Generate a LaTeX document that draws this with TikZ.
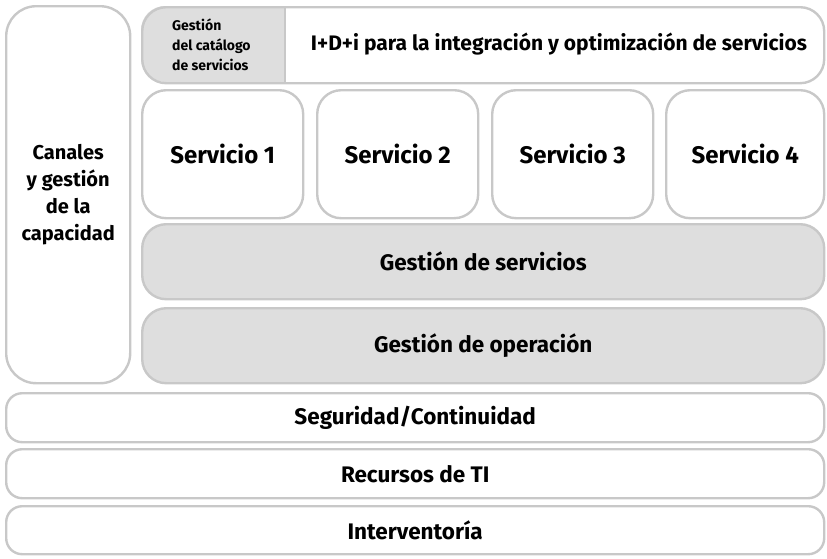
\documentclass[tikz,border=0pt]{standalone}
\usepackage{fontspec}
\setmainfont{Fira Sans}
\definecolor{edge}{HTML}{C8C8C8}
\definecolor{fillg}{HTML}{DEDEDE}
\tikzset{
  box/.style={draw=edge, line width=2.4pt, rectangle, rounded corners=#1, inner sep=0pt, anchor=north west, font=\bfseries, align=center},
  box/.default=24pt,
  gbox/.style={box=#1, fill=fillg},
  gbox/.default=24pt,
  svc/.style={box, minimum height=128pt, font=\bfseries\fontsize{24}{28}\selectfont},
  bar/.style={box=16pt, minimum width=818pt, font=\bfseries\fontsize{22.5}{26}\selectfont},
  mgmt/.style={gbox, minimum width=682pt, minimum height=75pt, font=\bfseries\fontsize{22.5}{26}\selectfont},
}
\begin{document}
\begin{tikzpicture}[x=1pt,y=-1pt]
\useasboundingbox (0,0) rectangle (827,558);
% left tall box
\node[box=30pt, minimum width=124pt, minimum height=377pt, font=\bfseries\fontsize{20}{27}\selectfont] (canal) at (5,5) {Canales\\y gestión\\de la\\capacidad};
% top combined box
\begin{scope}
  \clip[rounded corners=24pt] (141,6) rectangle (823,82);
  \fill[fillg] (141,6) rectangle (285,82);
\end{scope}
\node[box, minimum width=682pt, minimum height=76pt] (top) at (141,6) {};
\draw[edge, line width=2.4pt] (285,6) -- (285,82);
\node[font=\bfseries\fontsize{14}{20}\selectfont, align=left, anchor=west, inner sep=0pt] (cat) at (172,45) {Gestión\\del catálogo\\de servicios};
\node[font=\bfseries\fontsize{21}{24}\selectfont] (idi) at (559,44) {I+D+i para la integración y optimización de servicios};
% services
\node[svc, minimum width=161pt] (s1) at (141,89) {Servicio 1};
\node[svc, minimum width=161pt] (s2) at (316,89) {Servicio 2};
\node[svc, minimum width=161pt] (s3) at (491,89) {Servicio 3};
\node[svc, minimum width=158pt] (s4) at (665,89) {Servicio 4};
% management
\node[mgmt] (gs) at (141,223) {Gestión de servicios};
\node[mgmt] (go) at (141,307) {Gestión de operación};
% bottom bars
\node[bar, minimum height=49pt] (seg) at (5,392) {Seguridad/Continuidad};
\node[bar, minimum height=49pt] (rec) at (5,448) {Recursos de TI};
\node[bar, minimum height=48pt] (int) at (5,505) {Interventoría};
\end{tikzpicture}
\end{document}
